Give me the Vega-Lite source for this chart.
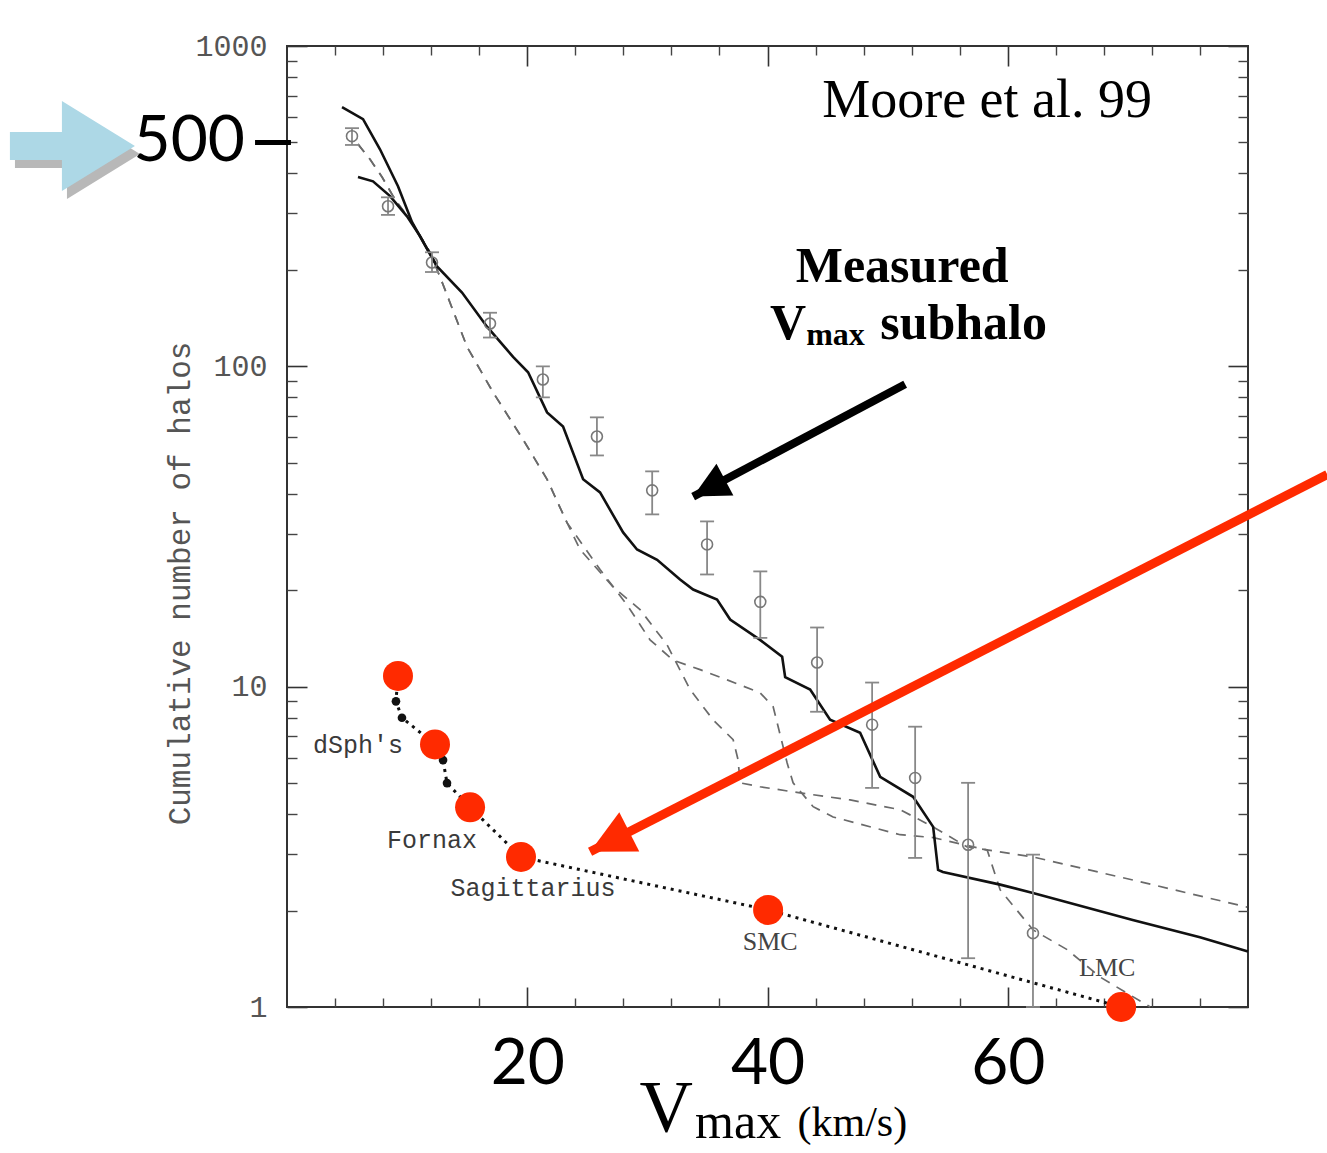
{
  "$schema": "https://vega.github.io/schema/vega-lite/v6.json",
  "width": 961,
  "height": 961,
  "autosize": {"type": "none"},
  "padding": {"left": 287, "top": 46, "right": 79, "bottom": 146},
  "background": "white",
  "config": {
    "view": {"stroke": "#333", "strokeWidth": 2},
    "axis": {"grid": false, "domain": false}
  },
  "datasets": {
    "frame": [{"V": 0, "N": 1}, {"V": 80, "N": 1000}],
    "curves": [
      {"series": "solid1", "V": 4.58, "N": 644}, {"series": "solid1", "V": 6.33, "N": 591}, {"series": "solid1", "V": 7.74, "N": 476},
      {"series": "solid1", "V": 9.24, "N": 365}, {"series": "solid1", "V": 10.41, "N": 282}, {"series": "solid1", "V": 12.49, "N": 205},
      {"series": "solid1", "V": 14.57, "N": 170}, {"series": "solid1", "V": 16.65, "N": 133}, {"series": "solid1", "V": 18.82, "N": 107},
      {"series": "solid1", "V": 20.07, "N": 95.8}, {"series": "solid1", "V": 21.65, "N": 71.8}, {"series": "solid1", "V": 22.98, "N": 64.9},
      {"series": "solid1", "V": 24.65, "N": 44.4}, {"series": "solid1", "V": 26.06, "N": 40.4}, {"series": "solid1", "V": 27.98, "N": 30.3},
      {"series": "solid1", "V": 29.14, "N": 26.8}, {"series": "solid1", "V": 30.81, "N": 24.9}, {"series": "solid1", "V": 32.72, "N": 21.6},
      {"series": "solid1", "V": 33.81, "N": 20.1}, {"series": "solid1", "V": 35.8, "N": 18.7}, {"series": "solid1", "V": 36.89, "N": 16.2},
      {"series": "solid1", "V": 39.38, "N": 14.0}, {"series": "solid1", "V": 41.22, "N": 12.4}, {"series": "solid1", "V": 41.47, "N": 10.7},
      {"series": "solid1", "V": 43.55, "N": 9.79}, {"series": "solid1", "V": 45.21, "N": 7.88}, {"series": "solid1", "V": 47.71, "N": 7.18},
      {"series": "solid1", "V": 49.38, "N": 5.23}, {"series": "solid1", "V": 52.12, "N": 4.53}, {"series": "solid1", "V": 53.79, "N": 3.65},
      {"series": "solid1", "V": 54.2, "N": 2.68}, {"series": "solid1", "V": 54.6, "N": 2.64}, {"series": "solid1", "V": 59.37, "N": 2.41},
      {"series": "solid1", "V": 62.1, "N": 2.27}, {"series": "solid1", "V": 70.4, "N": 1.87}, {"series": "solid1", "V": 76.0, "N": 1.65},
      {"series": "solid1", "V": 80.0, "N": 1.49},
      {"series": "solid2", "V": 5.91, "N": 390}, {"series": "solid2", "V": 7.16, "N": 378}, {"series": "solid2", "V": 8.58, "N": 340},
      {"series": "solid2", "V": 9.99, "N": 294}, {"series": "solid2", "V": 11.07, "N": 255}, {"series": "solid2", "V": 12.49, "N": 205},
      {"series": "dashA", "V": 5.91, "N": 494}, {"series": "dashA", "V": 6.91, "N": 443}, {"series": "dashA", "V": 7.91, "N": 390},
      {"series": "dashA", "V": 8.99, "N": 332}, {"series": "dashA", "V": 10.49, "N": 278}, {"series": "dashA", "V": 11.91, "N": 227},
      {"series": "dashA", "V": 12.99, "N": 180}, {"series": "dashA", "V": 14.99, "N": 115}, {"series": "dashA", "V": 17.15, "N": 83},
      {"series": "dashA", "V": 19.65, "N": 59.1}, {"series": "dashA", "V": 21.65, "N": 44.4}, {"series": "dashA", "V": 23.31, "N": 32.5},
      {"series": "dashA", "V": 24.4, "N": 26.8}, {"series": "dashA", "V": 27.14, "N": 20.5}, {"series": "dashA", "V": 29.39, "N": 17.4},
      {"series": "dashA", "V": 31.64, "N": 13.5}, {"series": "dashA", "V": 33.56, "N": 9.79}, {"series": "dashA", "V": 35.47, "N": 7.88},
      {"series": "dashA", "V": 37.14, "N": 6.83}, {"series": "dashA", "V": 37.55, "N": 5.91}, {"series": "dashA", "V": 37.72, "N": 5.01},
      {"series": "dashA", "V": 39.38, "N": 4.87}, {"series": "dashA", "V": 42.71, "N": 4.66}, {"series": "dashA", "V": 46.88, "N": 4.43},
      {"series": "dashA", "V": 51.04, "N": 4.13}, {"series": "dashA", "V": 53.79, "N": 3.65}, {"series": "dashA", "V": 56.62, "N": 3.16},
      {"series": "dashA", "V": 62.11, "N": 2.94}, {"series": "dashA", "V": 70.44, "N": 2.49}, {"series": "dashA", "V": 79.93, "N": 2.05},
      {"series": "dashB", "V": 5.91, "N": 494}, {"series": "dashB", "V": 6.91, "N": 443}, {"series": "dashB", "V": 7.91, "N": 390},
      {"series": "dashB", "V": 8.99, "N": 332}, {"series": "dashB", "V": 10.49, "N": 278}, {"series": "dashB", "V": 11.91, "N": 227},
      {"series": "dashB", "V": 12.99, "N": 180}, {"series": "dashB", "V": 14.99, "N": 115}, {"series": "dashB", "V": 17.15, "N": 83},
      {"series": "dashB", "V": 19.65, "N": 59.1}, {"series": "dashB", "V": 21.65, "N": 44.4}, {"series": "dashB", "V": 23.31, "N": 32.5},
      {"series": "dashB", "V": 26.06, "N": 23.2}, {"series": "dashB", "V": 28.31, "N": 18.0}, {"series": "dashB", "V": 30.22, "N": 14.0},
      {"series": "dashB", "V": 32.14, "N": 12.1}, {"series": "dashB", "V": 34.39, "N": 11.3}, {"series": "dashB", "V": 36.64, "N": 10.5},
      {"series": "dashB", "V": 39.38, "N": 9.57}, {"series": "dashB", "V": 40.47, "N": 8.66}, {"series": "dashB", "V": 41.63, "N": 5.79},
      {"series": "dashB", "V": 42.13, "N": 5.01}, {"series": "dashB", "V": 43.8, "N": 4.22}, {"series": "dashB", "V": 45.46, "N": 3.92},
      {"series": "dashB", "V": 51.04, "N": 3.45}, {"series": "dashB", "V": 53.79, "N": 3.38}, {"series": "dashB", "V": 58.29, "N": 3.09},
      {"series": "dashB", "V": 59.37, "N": 2.32}, {"series": "dashB", "V": 62.11, "N": 1.74}, {"series": "dashB", "V": 64.95, "N": 1.51},
      {"series": "dashB", "V": 67.69, "N": 1.24}, {"series": "dashB", "V": 71.86, "N": 1.0}
    ],
    "errs": [
      {"V": 5.41, "N": 523, "lo": 491, "hi": 554},
      {"V": 8.41, "N": 316, "lo": 297, "hi": 337},
      {"V": 12.07, "N": 211, "lo": 197, "hi": 227},
      {"V": 16.9, "N": 136, "lo": 123, "hi": 147},
      {"V": 21.3, "N": 91, "lo": 80, "hi": 100},
      {"V": 25.8, "N": 60.4, "lo": 52.7, "hi": 69.3},
      {"V": 30.4, "N": 41.0, "lo": 34.5, "hi": 47.0},
      {"V": 34.97, "N": 27.8, "lo": 22.4, "hi": 32.8},
      {"V": 39.4, "N": 18.4, "lo": 14.2, "hi": 22.9},
      {"V": 44.13, "N": 11.9, "lo": 8.35, "hi": 15.3},
      {"V": 48.71, "N": 7.61, "lo": 4.83, "hi": 10.3},
      {"V": 52.29, "N": 5.19, "lo": 2.92, "hi": 7.5},
      {"V": 56.7, "N": 3.21, "lo": 1.42, "hi": 5.01},
      {"V": 62.1, "N": 1.7, "lo": 1.0, "hi": 2.99}
    ],
    "dwarfs": [
      {"i": 1, "V": 9.24, "N": 10.8, "kind": "red"},
      {"i": 2, "V": 9.07, "N": 9.0, "kind": "black"},
      {"i": 3, "V": 9.57, "N": 8.0, "kind": "black"},
      {"i": 4, "V": 12.32, "N": 6.6, "kind": "red"},
      {"i": 5, "V": 12.99, "N": 5.9, "kind": "black"},
      {"i": 6, "V": 13.32, "N": 5.0, "kind": "black"},
      {"i": 7, "V": 15.24, "N": 4.2, "kind": "red"},
      {"i": 8, "V": 19.48, "N": 2.94, "kind": "red"},
      {"i": 9, "V": 40.05, "N": 2.01, "kind": "red"},
      {"i": 10, "V": 69.44, "N": 1.0, "kind": "red"}
    ],
    "figlabels": [
      {"text": "dSph's", "V": 5.91, "N": 6.59},
      {"text": "Fornax", "V": 12.07, "N": 3.33},
      {"text": "Sagittarius", "V": 20.48, "N": 2.35}
    ],
    "satlabels": [
      {"text": "SMC", "V": 40.22, "N": 1.6},
      {"text": "LMC", "V": 68.28, "N": 1.32}
    ],
    "notes": [
      {"name": "moore", "text": "Moore et al. 99", "V": 58.28, "N": 600},
      {"name": "measured", "text": "Measured", "V": 51.21, "N": 184},
      {"name": "V", "text": "V", "V": 41.72, "N": 121.4},
      {"name": "sub", "text": "max", "V": 43.22, "N": 116.3},
      {"name": "subhalo", "text": "subhalo", "V": 49.38, "N": 121.4},
      {"name": "xV", "text": "V", "V": 31.56, "N": 0.4066},
      {"name": "xmax", "text": "max", "V": 33.97, "N": 0.3891},
      {"name": "xunit", "text": "(km/s)", "V": 42.5, "N": 0.395},
      {"name": "five", "text": "500", "V": -3.5, "N": 500}
    ],
    "marker500": [{"V": -2.66, "V2": 0.33, "N": 500}],
    "bluearrow": [{"part": "shadow", "V": -12.24, "N": 460}, {"part": "arrow", "V": -12.66, "N": 487}],
    "arrows": [
      {"arrow": "red", "end": "start", "V": 86.6, "N": 45.97},
      {"arrow": "red", "end": "tip", "V": 25.23, "N": 3.05},
      {"arrow": "black", "end": "start", "V": 51.46, "N": 87.9},
      {"arrow": "black", "end": "tip", "V": 33.81, "N": 39.2}
    ]
  },
  "encoding": {
    "x": {"field": "V", "type": "quantitative", "scale": {"domain": [0, 80], "nice": false, "zero": false}, "axis": null},
    "y": {"field": "N", "type": "quantitative", "scale": {"type": "log", "domain": [1, 1000], "nice": false}, "axis": null}
  },
  "resolve": {"axis": {"x": "independent", "y": "independent"}},
  "layer": [
    {
      "data": {"name": "frame"},
      "mark": {"type": "point", "opacity": 0},
      "encoding": {
        "x": {"field": "V", "type": "quantitative", "scale": {"domain": [0, 80], "nice": false, "zero": false},
          "axis": {"orient": "bottom", "values": [20, 40, 60], "ticks": false, "labels": true, "labelFont": "Lato", "labelFontSize": 64, "labelColor": "#000", "labelPadding": 25, "labelFlush": false, "title": null}},
        "y": {"field": "N", "type": "quantitative", "scale": {"type": "log", "domain": [1, 1000], "nice": false},
          "axis": {"orient": "left", "values": [1, 10, 100, 1000], "format": "d", "ticks": false, "labelFont": "Liberation Mono", "labelFontSize": 30, "labelColor": "#555", "labelPadding": 20, "labelFlush": false,
            "title": "Cumulative number of halos", "titleFont": "Liberation Mono", "titleFontSize": 31, "titleFontWeight": "normal", "titleColor": "#555", "titleAngle": -90, "titleX": -107, "titleY": 537, "titleBaseline": "middle", "titleAlign": "center"}}
      }
    },
    {
      "data": {"name": "frame"},
      "mark": {"type": "point", "opacity": 0},
      "encoding": {
        "x": {"field": "V", "type": "quantitative", "scale": {"domain": [0, 80], "nice": false, "zero": false},
          "axis": {"orient": "bottom", "values": [20, 40, 60], "tickSize": -20, "tickWidth": 1.6, "tickColor": "#333", "labels": false, "title": null}},
        "y": {"field": "N", "type": "quantitative", "scale": {"type": "log", "domain": [1, 1000], "nice": false},
          "axis": {"orient": "left", "values": [1, 10, 100, 1000], "tickSize": -20, "tickWidth": 1.6, "tickColor": "#333", "labels": false, "title": null}}
      }
    },
    {
      "data": {"name": "frame"},
      "mark": {"type": "point", "opacity": 0},
      "encoding": {
        "x": {"field": "V", "type": "quantitative", "scale": {"domain": [0, 80], "nice": false, "zero": false},
          "axis": {"orient": "bottom", "values": [4, 8, 12, 16, 24, 28, 32, 36, 44, 48, 52, 56, 64, 68, 72, 76], "tickSize": -9, "tickWidth": 1.4, "tickColor": "#444", "labels": false, "title": null}},
        "y": {"field": "N", "type": "quantitative", "scale": {"type": "log", "domain": [1, 1000], "nice": false},
          "axis": {"orient": "left", "values": [2, 3, 4, 5, 6, 7, 8, 9, 20, 30, 40, 50, 60, 70, 80, 90, 200, 300, 400, 500, 600, 700, 800, 900], "tickSize": -10, "tickWidth": 1.4, "tickColor": "#444", "labels": false, "title": null}}
      }
    },
    {
      "data": {"name": "frame"},
      "mark": {"type": "point", "opacity": 0},
      "encoding": {
        "x": {"field": "V", "type": "quantitative", "scale": {"domain": [0, 80], "nice": false, "zero": false},
          "axis": {"orient": "top", "values": [20, 40, 60], "tickSize": -20, "tickWidth": 1.6, "tickColor": "#333", "labels": false, "title": null}},
        "y": {"field": "N", "type": "quantitative", "scale": {"type": "log", "domain": [1, 1000], "nice": false},
          "axis": {"orient": "right", "values": [1, 10, 100, 1000], "tickSize": -20, "tickWidth": 1.6, "tickColor": "#333", "labels": false, "title": null}}
      }
    },
    {
      "data": {"name": "frame"},
      "mark": {"type": "point", "opacity": 0},
      "encoding": {
        "x": {"field": "V", "type": "quantitative", "scale": {"domain": [0, 80], "nice": false, "zero": false},
          "axis": {"orient": "top", "values": [4, 8, 12, 16, 24, 28, 32, 36, 44, 48, 52, 56, 64, 68, 72, 76], "tickSize": -9, "tickWidth": 1.4, "tickColor": "#444", "labels": false, "title": null}},
        "y": {"field": "N", "type": "quantitative", "scale": {"type": "log", "domain": [1, 1000], "nice": false},
          "axis": {"orient": "right", "values": [2, 3, 4, 5, 6, 7, 8, 9, 20, 30, 40, 50, 60, 70, 80, 90, 200, 300, 400, 500, 600, 700, 800, 900], "tickSize": -10, "tickWidth": 1.4, "tickColor": "#444", "labels": false, "title": null}}
      }
    },
    {
      "data": {"name": "curves"},
      "transform": [{"filter": "datum.series === 'dashA' || datum.series === 'dashB'"}],
      "mark": {"type": "line", "stroke": "#6a6a6a", "strokeWidth": 1.7, "strokeDash": [10, 8]},
      "encoding": {"detail": {"field": "series"}}
    },
    {
      "data": {"name": "curves"},
      "transform": [{"filter": "datum.series === 'solid1' || datum.series === 'solid2'"}],
      "mark": {"type": "line", "stroke": "#111", "strokeWidth": 2.6},
      "encoding": {"detail": {"field": "series"}}
    },
    {
      "data": {"name": "errs"},
      "mark": {"type": "rule", "stroke": "#888", "strokeWidth": 1.8},
      "encoding": {
        "y": {"field": "lo", "type": "quantitative", "scale": {"type": "log", "domain": [1, 1000], "nice": false}, "axis": null},
        "y2": {"field": "hi"}
      }
    },
    {
      "data": {"name": "errs"},
      "mark": {"type": "tick", "orient": "horizontal", "size": 14, "thickness": 1.8, "color": "#888", "opacity": 1},
      "encoding": {"y": {"field": "lo", "type": "quantitative", "scale": {"type": "log", "domain": [1, 1000], "nice": false}, "axis": null}}
    },
    {
      "data": {"name": "errs"},
      "mark": {"type": "tick", "orient": "horizontal", "size": 14, "thickness": 1.8, "color": "#888", "opacity": 1},
      "encoding": {"y": {"field": "hi", "type": "quantitative", "scale": {"type": "log", "domain": [1, 1000], "nice": false}, "axis": null}}
    },
    {
      "data": {"name": "errs"},
      "mark": {"type": "point", "filled": false, "stroke": "#777", "strokeWidth": 1.6, "size": 120, "opacity": 1}
    },
    {
      "data": {"name": "dwarfs"},
      "mark": {"type": "line", "stroke": "#111", "strokeWidth": 3, "strokeDash": [3, 5], "strokeCap": "butt"},
      "encoding": {"order": {"field": "i", "type": "quantitative"}}
    },
    {
      "data": {"name": "dwarfs"},
      "transform": [{"filter": "datum.kind === 'black'"}],
      "mark": {"type": "point", "filled": true, "color": "#111", "size": 75, "opacity": 1}
    },
    {
      "data": {"name": "dwarfs"},
      "transform": [{"filter": "datum.kind === 'red'"}],
      "mark": {"type": "point", "filled": true, "color": "#ff2a00", "size": 900, "opacity": 1}
    },
    {
      "data": {"name": "figlabels"},
      "mark": {"type": "text", "font": "Liberation Mono", "fontSize": 25, "color": "#3a3a3a", "align": "center", "baseline": "middle"},
      "encoding": {"text": {"field": "text"}}
    },
    {
      "data": {"name": "satlabels"},
      "mark": {"type": "text", "font": "Liberation Serif", "fontSize": 26, "color": "#444", "align": "center", "baseline": "middle"},
      "encoding": {"text": {"field": "text"}}
    },
    {
      "data": {"name": "notes"},
      "transform": [{"filter": "datum.name === 'moore'"}],
      "mark": {"type": "text", "font": "Liberation Serif", "fontSize": 54, "color": "#000", "align": "center", "baseline": "alphabetic"},
      "encoding": {"text": {"field": "text"}}
    },
    {
      "data": {"name": "notes"},
      "transform": [{"filter": "datum.name === 'measured'"}],
      "mark": {"type": "text", "font": "Liberation Serif", "fontSize": 50, "fontWeight": "bold", "color": "#000", "align": "center", "baseline": "alphabetic"},
      "encoding": {"text": {"field": "text"}}
    },
    {
      "data": {"name": "notes"},
      "transform": [{"filter": "datum.name === 'V'"}],
      "mark": {"type": "text", "font": "Liberation Serif", "fontSize": 50, "fontWeight": "bold", "color": "#000", "align": "center", "baseline": "alphabetic"},
      "encoding": {"text": {"field": "text"}}
    },
    {
      "data": {"name": "notes"},
      "transform": [{"filter": "datum.name === 'sub'"}],
      "mark": {"type": "text", "font": "Liberation Serif", "fontSize": 32, "fontWeight": "bold", "color": "#000", "align": "left", "baseline": "alphabetic"},
      "encoding": {"text": {"field": "text"}}
    },
    {
      "data": {"name": "notes"},
      "transform": [{"filter": "datum.name === 'subhalo'"}],
      "mark": {"type": "text", "font": "Liberation Serif", "fontSize": 50, "fontWeight": "bold", "color": "#000", "align": "left", "baseline": "alphabetic"},
      "encoding": {"text": {"field": "text"}}
    },
    {
      "data": {"name": "notes"},
      "transform": [{"filter": "datum.name === 'xV'"}],
      "mark": {"type": "text", "font": "Liberation Serif", "fontSize": 74, "color": "#000", "align": "center", "baseline": "alphabetic"},
      "encoding": {"text": {"field": "text"}}
    },
    {
      "data": {"name": "notes"},
      "transform": [{"filter": "datum.name === 'xmax'"}],
      "mark": {"type": "text", "font": "Liberation Serif", "fontSize": 50, "color": "#000", "align": "left", "baseline": "alphabetic"},
      "encoding": {"text": {"field": "text"}}
    },
    {
      "data": {"name": "notes"},
      "transform": [{"filter": "datum.name === 'xunit'"}],
      "mark": {"type": "text", "font": "Liberation Serif", "fontSize": 42, "color": "#000", "align": "left", "baseline": "alphabetic"},
      "encoding": {"text": {"field": "text"}}
    },
    {
      "data": {"name": "marker500"},
      "mark": {"type": "rule", "stroke": "#000", "strokeWidth": 5},
      "encoding": {"x2": {"field": "V2"}}
    },
    {
      "data": {"name": "notes"},
      "transform": [{"filter": "datum.name === 'five'"}],
      "mark": {"type": "text", "font": "Lato", "fontSize": 64, "color": "#000", "align": "right", "baseline": "middle"},
      "encoding": {"text": {"field": "text"}}
    },
    {
      "data": {"name": "bluearrow"},
      "transform": [{"filter": "datum.part === 'shadow'"}],
      "mark": {"type": "point", "filled": true, "color": "#333", "opacity": 0.35, "size": 62500, "shape": "M0,0L-0.584,-0.36L-0.584,-0.112L-1,-0.112L-1,0.112L-0.584,0.112L-0.584,0.36Z"}
    },
    {
      "data": {"name": "bluearrow"},
      "transform": [{"filter": "datum.part === 'arrow'"}],
      "mark": {"type": "point", "filled": true, "color": "#add8e6", "opacity": 1, "size": 62500, "shape": "M0,0L-0.584,-0.36L-0.584,-0.112L-1,-0.112L-1,0.112L-0.584,0.112L-0.584,0.36Z"}
    },
    {
      "data": {"name": "arrows"},
      "transform": [{"filter": "datum.arrow === 'red'"}],
      "mark": {"type": "line", "stroke": "#ff2a00", "strokeWidth": 9, "strokeCap": "butt"}
    },
    {
      "data": {"name": "arrows"},
      "transform": [{"filter": "datum.arrow === 'red' && datum.end === 'tip'"}],
      "mark": {"type": "point", "filled": true, "color": "#ff2a00", "opacity": 1, "size": 7744, "angle": 243, "shape": "M0,0L-0.5,1L0.5,1Z"}
    },
    {
      "data": {"name": "arrows"},
      "transform": [{"filter": "datum.arrow === 'black'"}],
      "mark": {"type": "line", "stroke": "#000", "strokeWidth": 8, "strokeCap": "butt"}
    },
    {
      "data": {"name": "arrows"},
      "transform": [{"filter": "datum.arrow === 'black' && datum.end === 'tip'"}],
      "mark": {"type": "point", "filled": true, "color": "#000", "opacity": 1, "size": 5184, "angle": 242, "shape": "M0,0L-0.5,1L0.5,1Z"}
    }
  ]
}
